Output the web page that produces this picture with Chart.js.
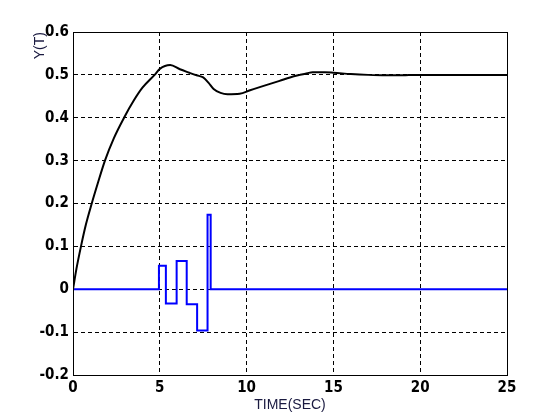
<!DOCTYPE html>
<html>
<head>
<meta charset="utf-8">
<script src="https://cdn.jsdelivr.net/npm/chart.js@4.4.1/dist/chart.umd.min.js"></script>
<style>
  html, body { margin: 0; padding: 0; background: #fff; }
  #wrap { width: 560px; height: 420px; }
</style>
</head>
<body>
<div id="wrap"><canvas id="stepChart" width="560" height="420"></canvas></div>
<script>
'use strict';

// 応答曲線 y(t)
var respTime = [0, 0.2, 0.46, 0.75, 1.08, 1.45, 1.84, 2.35, 2.94, 3.5, 4.0, 4.7, 5.0, 5.6, 6.16, 6.7, 7.12, 7.5, 7.8, 8.1, 8.5, 8.9, 9.6, 10.2, 10.8, 11.9, 12.5, 13.07, 13.5, 13.8, 14.5, 15.0, 16.0, 17, 18, 19, 19.7, 21, 23, 25];
var respValue = [0, 0.048, 0.1, 0.152, 0.2, 0.25, 0.3, 0.352, 0.4, 0.44, 0.47, 0.5, 0.514, 0.523, 0.513, 0.505, 0.499, 0.494, 0.482, 0.467, 0.458, 0.455, 0.456, 0.464, 0.472, 0.486, 0.494, 0.5, 0.504, 0.506, 0.506, 0.505, 0.502, 0.5, 0.499, 0.499, 0.5, 0.5, 0.5, 0.5];

// 入力信号（階段状）
var sigTime = [0, 4.95, 5.35, 5.97, 6.55, 7.15, 7.75, 7.93, 25];
var sigValue = [0, 0.055, -0.033, 0.066, -0.035, -0.096, 0.174, 0, 0];

var xTicks = [0, 5, 10, 15, 20, 25];
var yTicks = [-0.2, -0.1, 0, 0.1, 0.2, 0.3, 0.4, 0.5, 0.6];

function toPoints(xs, ys) {
  return xs.map(function (x, i) { return { x: x, y: ys[i] }; });
}

var tickFont = { family: "'Liberation Sans Narrow', 'DejaVu Sans Condensed', Arial, sans-serif", size: 15, weight: 'bold' };
var titleFont = { family: "'Liberation Sans', Arial, sans-serif", size: 14 };

// 枠線を描くプラグイン
var frameBox = {
  id: 'frameBox',
  afterDraw: function (chart) {
    var a = chart.chartArea;
    var c = chart.ctx;
    c.save();
    c.strokeStyle = '#000';
    c.lineWidth = 1;
    c.strokeRect(Math.round(a.left) + 0.5, Math.round(a.top) + 0.5, Math.round(a.right - a.left), Math.round(a.bottom - a.top));
    c.restore();
  }
};

var ctx = document.getElementById('stepChart').getContext('2d');

var stepChart = new Chart(ctx, {
  type: 'line',
  data: {
    datasets: [
      {
        data: toPoints(respTime, respValue),
        borderColor: '#000',
        borderWidth: 2,
        pointRadius: 0,
        cubicInterpolationMode: 'monotone',
        fill: false
      },
      {
        data: toPoints(sigTime, sigValue),
        borderColor: '#0000ff',
        borderWidth: 2,
        pointRadius: 0,
        stepped: true,
        fill: false
      }
    ]
  },
  options: {
    responsive: false,
    animation: false,
    layout: { padding: { top: 32, right: 53, left: 0, bottom: 0 } },
    plugins: {
      legend: { display: false },
      tooltip: { enabled: false }
    },
    scales: {
      x: {
        type: 'linear',
        min: 0,
        max: 25,
        afterFit: function (s) { s.height = 45; },
        afterBuildTicks: function (s) { s.ticks = xTicks.map(function (v) { return { value: v }; }); },
        ticks: { color: '#000', font: tickFont, padding: 4, maxRotation: 0 },
        grid: { color: '#000', lineWidth: 1, drawTicks: false },
        border: { display: true, color: '#000', dash: [4, 3] },
        title: { display: true, text: 'TIME(SEC)', color: '#1a1a40', font: titleFont, padding: { top: 0, bottom: 6 } }
      },
      y: {
        min: -0.2,
        max: 0.6,
        afterFit: function (s) { s.width = 73; },
        afterBuildTicks: function (s) { s.ticks = yTicks.map(function (v) { return { value: v }; }); },
        ticks: {
          color: '#000',
          font: tickFont,
          padding: 4,
          callback: function (v) { return String(Math.round(v * 10) / 10); }
        },
        grid: { color: '#000', lineWidth: 1, drawTicks: false },
        border: { display: true, color: '#000', dash: [4, 3] },
        title: { display: true, text: 'Y(T)', color: '#1a1a40', font: titleFont, align: 'end', padding: { top: 32, bottom: 0 } }
      }
    }
  },
  plugins: [frameBox]
});
</script>
</body>
</html>
